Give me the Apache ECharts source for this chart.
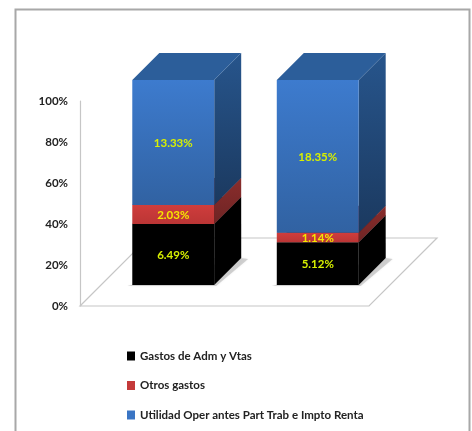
<!DOCTYPE html>
<html>
<head>
<meta charset="utf-8">
<style>
html,body{margin:0;padding:0;background:#fff;overflow:hidden}
#c{width:472px;height:431px;filter:blur(0.5px)}
</style>
<script src="https://cdn.jsdelivr.net/npm/echarts@6/dist/echarts.min.js"></script>
</head>
<body>
<div id="c"></div>
<script>
var categories = ['1', '2'];
var gastosAdm = [6.49, 5.12];
var otrosGastos = [2.03, 1.14];
var utilidadOper = [13.33, 18.35];
var seriesNames = ['Gastos de Adm y Vtas', 'Otros gastos', 'Utilidad Oper antes Part Trab e Impto Renta'];
var yTicks = [0, 20, 40, 60, 80, 100];

var FONT = 'Lato';
var FLOOR_DEPTH = 68, BAR_OFFSET = 21, BAR_DEPTH = 27, BAR_RATIO = 0.567;
var raw = [gastosAdm, otrosGastos, utilidadOper];

var palettes = [
  {legend:'#000000', front:['#000000','#000000'], side:['#000000','#000000'], top:'#000000', label:'#d8f000'},
  {legend:'#c43a3a', front:['#cf3d3c','#bb3535'], side:['#8a2d2c','#6e2424'], top:'#8a2d2c', label:'#f6e600'},
  {legend:'#3a75c4', front:['#3d7bce','#3162a2'], side:['#27558c','#1b395f'], top:'#2c5e9a', label:'#d8f000'}
];

function grad(c){
  return new echarts.graphic.LinearGradient(0,0,0,1,[{offset:0,color:c[0]},{offset:1,color:c[1]}]);
}

function segmentData(si){
  return categories.map(function(_, ci){
    var total = raw[0][ci] + raw[1][ci] + raw[2][ci], before = 0;
    for (var k = 0; k < si; k++) before += raw[k][ci];
    return [ci, before / total * 100, (before + raw[si][ci]) / total * 100, raw[si][ci]];
  });
}

function renderSegment(si){
  var p = palettes[si];
  return function(params, api){
    var ci = api.value(0);
    var band = api.size([1, 0])[0];
    var w = band * BAR_RATIO;
    var b = api.coord([ci, api.value(1)]);
    var t = api.coord([ci, api.value(2)]);
    var x0 = b[0] + BAR_OFFSET - w / 2, x1 = x0 + w;
    var yb = b[1] - BAR_OFFSET, yt = t[1] - BAR_OFFSET;
    var d = BAR_DEPTH;
    return {type:'group', children:[
      {type:'polygon', shape:{points:[[x1,yb],[x1+d,yb-d],[x1+d,yt-d],[x1,yt]]},
        style:{fill:grad(p.side)}},
      {type:'polygon', shape:{points:[[x0,yt],[x0+d,yt-d],[x1+d,yt-d],[x1,yt]]},
        style:{fill:p.top}},
      {type:'rect', shape:{x:x0,y:yt,width:w,height:yb-yt},
        style:{fill:grad(p.front)}},
      {type:'text', x:(x0+x1)/2, y:(yb+yt)/2+1, z2:10, style:{
        text:api.value(3).toFixed(2)+'%', fill:p.label, align:'center', verticalAlign:'middle',
        font:'bold 11.5px '+FONT}}
    ]};
  };
}

var series = [{
  type:'custom', silent:true, z:1, data:[[0]], coordinateSystem:'cartesian2d',
  encode:{x:-1,y:-1},
  renderItem:function(params, api){
    var r = params.coordSys, yb = r.y + r.height, d = FLOOR_DEPTH;
    var kids = [{type:'polygon',
      shape:{points:[[r.x,yb],[r.x+r.width,yb],[r.x+r.width+d,yb-d],[r.x+d,yb-d]]},
      style:{fill:'#ffffff', stroke:'#c6c6c6', lineWidth:1.2}}];
    categories.forEach(function(_, ci){
      var c = api.coord([ci, 0]), w = api.size([1,0])[0] * BAR_RATIO;
      var x0 = c[0] + BAR_OFFSET - w/2, x1 = x0 + w, y = c[1] - BAR_OFFSET;
      kids.push({type:'polygon',
        shape:{points:[[x0-5,y+1],[x1+2,y+1],[x1+BAR_DEPTH+7,y-BAR_DEPTH+1],[x1+BAR_DEPTH,y-BAR_DEPTH]]},
        style:{fill:'rgba(120,120,120,0.3)', shadowBlur:3, shadowColor:'rgba(0,0,0,0.2)'}});
    });
    return {type:'group', children:kids};
  }
}];

seriesNames.forEach(function(name, si){
  series.push({
    type:'custom', name:name, z:2+si, silent:true,
    itemStyle:{color:palettes[si].legend},
    data:segmentData(si), encode:{x:0,y:[1,2]},
    renderItem:renderSegment(si)
  });
});

var chart = echarts.init(document.getElementById('c'), null, {renderer:'canvas'});
chart.setOption({
  animation:false,
  backgroundColor:'#ffffff',
  grid:{left:80, top:101, width:289, height:205},
  xAxis:{type:'category', data:categories, axisLine:{show:false}, axisTick:{show:false}, axisLabel:{show:false}},
  yAxis:{type:'value', min:yTicks[0], max:yTicks[yTicks.length-1], interval:20,
    axisLine:{show:true, lineStyle:{color:'#c6c6c6', width:1.2}},
    axisTick:{show:false}, splitLine:{show:false},
    axisLabel:{formatter:'{value}%', color:'#222', fontFamily:FONT, fontWeight:'bold', fontSize:11.5, margin:12}},
  legend:{show:true, data:seriesNames, orient:'vertical', left:127, top:349, height:80, padding:0,
    itemWidth:8, itemHeight:9, itemGap:15.5,
    icon:'rect', selectedMode:false,
    textStyle:{color:'#222', fontFamily:FONT, fontWeight:'bold', fontSize:11.5, lineHeight:14}},
  graphic:[{type:'rect', z:0, silent:true, shape:{x:15.5,y:9.5,width:454,height:440},
    style:{fill:'none', stroke:'#a8a8a8', lineWidth:2}}],
  series:series
});
</script>
</body>
</html>
